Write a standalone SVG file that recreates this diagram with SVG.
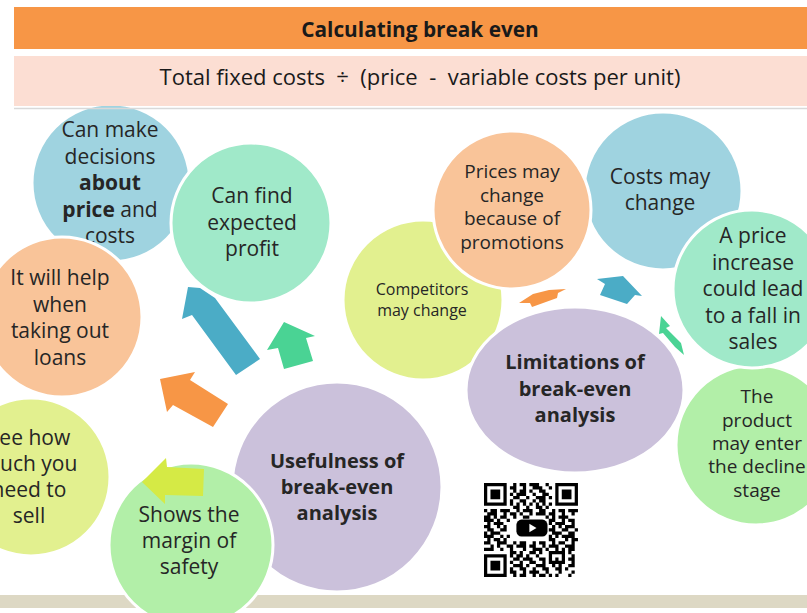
<svg xmlns="http://www.w3.org/2000/svg" width="807" height="613" viewBox="0 0 807 613">
<defs>
<style>
.c{stroke:#fff;stroke-width:3}
.t{font-family:"Open Sans","Noto Sans",sans-serif;font-size:21px;fill:#262626;text-anchor:middle}
.b{font-weight:bold}
.blue{fill:#9fd3e0}.mint{fill:#a0e9c9}.peach{fill:#f9c499}.lime{fill:#e2f08f}.lgreen{fill:#b2efa8}.purple{fill:#cbc1db}
.qr{stroke:#000;stroke-width:1;fill:none}
</style>
</defs>
<rect x="0" y="0" width="807" height="613" fill="#fff"/>
<rect id="bottom-band" x="0" y="595" width="807" height="13" fill="#ddd8c4"/>

<g id="node-sell"><circle class="c lime" cx="31" cy="477" r="79"/>
<text class="t"><tspan x="29" y="445">See how</tspan><tspan x="29" y="471">much you</tspan><tspan x="29" y="497">need to</tspan><tspan x="29" y="523">sell</tspan></text></g>

<g id="node-decisions"><circle class="c blue" cx="111" cy="183" r="79"/>
<text class="t"><tspan x="110" y="137">Can make</tspan><tspan x="110" y="164">decisions</tspan><tspan x="110" y="190" class="b">about</tspan><tspan x="110" y="217"><tspan class="b">price</tspan> and</tspan><tspan x="110" y="243">costs</tspan></text></g>

<g id="node-loans"><circle class="c peach" cx="62" cy="317" r="80"/>
<text class="t"><tspan x="60" y="285">It will help</tspan><tspan x="60" y="311.5">when</tspan><tspan x="60" y="338">taking out</tspan><tspan x="60" y="364.5">loans</tspan></text></g>

<g id="node-profit"><circle class="c mint" cx="251" cy="223" r="80"/>
<text class="t"><tspan x="252" y="203">Can find</tspan><tspan x="252" y="229.5">expected</tspan><tspan x="252" y="256">profit</tspan></text></g>

<g id="node-usefulness"><circle class="c purple" cx="337" cy="487" r="105"/>
<text class="t b" style="font-size:20px"><tspan x="337" y="468">Usefulness of</tspan><tspan x="337" y="494">break-even</tspan><tspan x="337" y="520">analysis</tspan></text></g>

<g id="node-safety"><circle class="c lgreen" cx="191" cy="545" r="82"/>
<text class="t"><tspan x="189" y="522">Shows the</tspan><tspan x="189" y="548">margin of</tspan><tspan x="189" y="574">safety</tspan></text></g>

<g id="node-competitors"><circle class="c lime" cx="423" cy="300" r="80"/>
<text class="t" style="font-size:16px"><tspan x="422" y="295">Competitors</tspan><tspan x="422" y="316">may change</tspan></text></g>

<g id="node-costs"><circle class="c blue" cx="663" cy="191" r="79"/>
<text class="t"><tspan x="660" y="184">Costs may</tspan><tspan x="660" y="210">change</tspan></text></g>

<g id="node-prices"><circle class="c peach" cx="512" cy="210" r="79"/>
<text class="t" style="font-size:19px"><tspan x="512" y="178">Prices may</tspan><tspan x="512" y="201.5">change</tspan><tspan x="512" y="225">because of</tspan><tspan x="512" y="248.5">promotions</tspan></text></g>

<g id="node-decline"><circle class="c lgreen" cx="756" cy="445" r="80"/>
<text class="t" style="font-size:19px"><tspan x="757" y="403">The</tspan><tspan x="757" y="427">product</tspan><tspan x="757" y="450">may enter</tspan><tspan x="757" y="473">the decline</tspan><tspan x="757" y="497">stage</tspan></text></g>

<g id="node-price-increase"><circle class="c mint" cx="752" cy="289" r="79"/>
<text class="t"><tspan x="753" y="243">A price</tspan><tspan x="753" y="269.5">increase</tspan><tspan x="753" y="296">could lead</tspan><tspan x="753" y="322.5">to a fall in</tspan><tspan x="753" y="349">sales</tspan></text></g>

<g id="node-limitations"><ellipse class="c purple" cx="575" cy="390" rx="109" ry="83"/>
<text class="t b" style="font-size:20px"><tspan x="575" y="369">Limitations of</tspan><tspan x="575" y="395.5">break-even</tspan><tspan x="575" y="422">analysis</tspan></text></g>

<g id="connectors">
<polygon fill="#4bacc6" points="188,287 200,288 215,298 260,359 236,375 192,315 182,319"/>
<polygon fill="#4ad394" points="284,322 315,336 306,338 313,361 284,369 278,348 267,350"/>
<polygon fill="#f79646" points="160,379 195,372 190,380 228,404 213,427 173,405 167,412"/>
<polygon fill="#d5ea45" points="142,482 166,458 167,467 204,469 203,496 165,495 165,504"/>
<polygon fill="#f79646" points="519,303 533,294 549,290 566,289 558,293 557,298 532,307 530,303"/>
<polygon fill="#4bacc6" points="597,279 623,276 642,296 635,295 627,304 600,295 605,284"/>
<polygon fill="#4ad394" points="661,316 670,326 666,328 681,343 684,355 675,347 663,333 659,334"/>
</g>

<g id="header">
<rect x="14" y="7" width="793" height="42" fill="#f79646"/>
<text x="420" y="37" class="t b" style="font-size:20.8px;fill:#1a1a1a">Calculating break even</text>
<rect x="14" y="56" width="793" height="50" fill="#fcded3"/>
<text x="420" y="85" class="t" style="font-size:22px;fill:#1a1a1a" xml:space="preserve">Total fixed costs  ÷  (price  -  variable costs per unit)</text>
<line x1="14" y1="108.5" x2="807" y2="108.5" stroke="#d9d9d9" stroke-width="1.5"/>
</g>

<g id="qr" transform="translate(484,483) scale(3.24)">
<rect x="-0.5" y="-0.5" width="30" height="30" fill="#fff"/>
<path class="qr" d="M0 0.5h7M9 0.5h1M11 0.5h2M14 0.5h3M19 0.5h1M22 0.5h7
M0 1.5h1M6 1.5h1M8 1.5h2M12 1.5h1M15 1.5h3M20 1.5h1M22 1.5h1M28 1.5h1
M0 2.5h1M2 2.5h3M6 2.5h1M9 2.5h1M11 2.5h2M14 2.5h1M17 2.5h2M22 2.5h1M24 2.5h3M28 2.5h1
M0 3.5h1M2 3.5h3M6 3.5h1M8 3.5h1M10 3.5h3M15 3.5h1M18 3.5h2M22 3.5h1M24 3.5h3M28 3.5h1
M0 4.5h1M2 4.5h3M6 4.5h1M9 4.5h2M13 4.5h1M16 4.5h3M20 4.5h1M22 4.5h1M24 4.5h3M28 4.5h1
M0 5.5h1M6 5.5h1M8 5.5h1M11 5.5h2M15 5.5h1M17 5.5h2M22 5.5h1M28 5.5h1
M0 6.5h7M8 6.5h1M10 6.5h1M12 6.5h1M14 6.5h1M16 6.5h1M18 6.5h1M20 6.5h1M22 6.5h7
M9 7.5h2M13 7.5h1M16 7.5h2M19 7.5h1
M0 8.5h1M2 8.5h2M5 8.5h3M10 8.5h1M12 8.5h3M17 8.5h2M21 8.5h1M23 8.5h2M26 8.5h3
M1 9.5h3M6 9.5h1M8 9.5h2M11 9.5h1M14 9.5h1M16 9.5h3M20 9.5h2M24 9.5h1M27 9.5h1
M0 10.5h2M3 10.5h1M5 10.5h2M9 10.5h1M12 10.5h2M19 10.5h1M21 10.5h1M23 10.5h3
M0 11.5h3M4 11.5h1M7 11.5h1M20 11.5h2M24 11.5h1M26 11.5h2
M1 12.5h1M3 12.5h3M20 12.5h1M22 12.5h3M27 12.5h1
M0 13.5h2M4 13.5h1M6 13.5h1M21 13.5h1M23 13.5h1M25 13.5h3
M1 14.5h2M5 14.5h2M20 14.5h2M24 14.5h2M28 14.5h1
M0 15.5h1M2 15.5h3M21 15.5h3M26 15.5h2
M0 16.5h3M5 16.5h1M7 16.5h1M20 16.5h1M22 16.5h1M24 16.5h4
M1 17.5h1M3 17.5h2M6 17.5h1M20 17.5h2M25 17.5h1M27 17.5h2
M0 18.5h2M4 18.5h3M9 18.5h1M11 18.5h2M15 18.5h1M17 18.5h2M21 18.5h1M23 18.5h2M27 18.5h1
M2 19.5h1M4 19.5h1M7 19.5h2M10 19.5h3M14 19.5h2M18 19.5h1M20 19.5h3M25 19.5h3
M0 20.5h3M5 20.5h1M8 20.5h1M12 20.5h1M15 20.5h3M19 20.5h1M22 20.5h1M24 20.5h1M26 20.5h2
M8 21.5h2M11 21.5h1M14 21.5h2M17 21.5h1M20 21.5h5M26 21.5h1
M0 22.5h7M8 22.5h1M10 22.5h2M13 22.5h1M16 22.5h1M20 22.5h1M24 22.5h1M27 22.5h1
M0 23.5h1M6 23.5h1M9 23.5h2M12 23.5h3M17 23.5h2M20 23.5h1M22 23.5h1M24 23.5h1M26 23.5h2
M0 24.5h1M2 24.5h3M6 24.5h1M8 24.5h1M11 24.5h1M14 24.5h2M18 24.5h1M20 24.5h5M27 24.5h1
M0 25.5h1M2 25.5h3M6 25.5h1M9 25.5h3M13 25.5h1M16 25.5h3M21 25.5h1M23 25.5h1M26 25.5h2
M0 26.5h1M2 26.5h3M6 26.5h1M8 26.5h1M11 26.5h2M15 26.5h1M18 26.5h2M22 26.5h2M25 26.5h1
M0 27.5h1M6 27.5h1M8 27.5h2M12 27.5h1M14 27.5h3M19 27.5h1M23 27.5h1M27 27.5h1
M0 28.5h7M9 28.5h1M11 28.5h2M15 28.5h1M17 28.5h2M20 28.5h1M22 28.5h1M26 28.5h1"/>
<rect x="10" y="11.3" width="9.6" height="5.2" rx="1.6" fill="#000"/>
<polygon points="14,12.6 14,15.2 16.2,13.9" fill="#fff"/>
</g>
</svg>
